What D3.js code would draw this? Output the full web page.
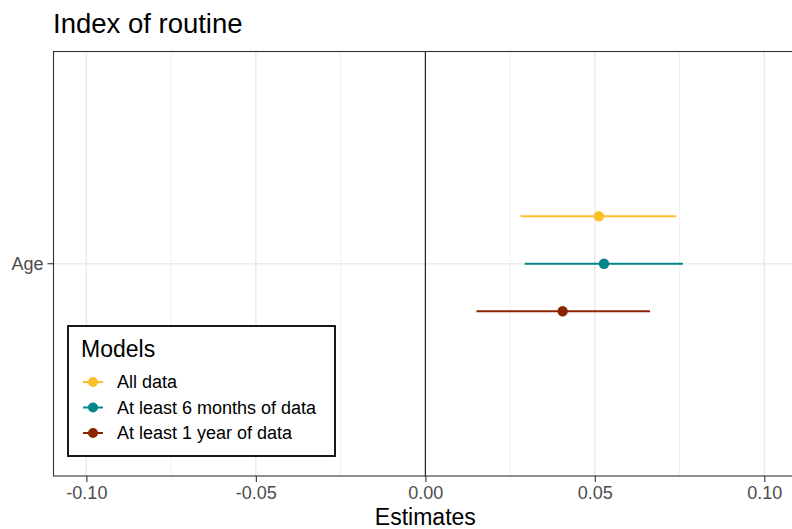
<!DOCTYPE html>
<html>
<head>
<meta charset="utf-8">
<script src="https://cdn.jsdelivr.net/npm/d3@7"></script>
<style>
  html, body { margin: 0; padding: 0; background: #fff; }
  svg { display: block; font-family: Arial, "Liberation Sans", sans-serif; }
</style>
</head>
<body>
<svg id="chart" width="792" height="529"></svg>
<script>
// Coefficient estimates for Age with confidence intervals, by model subset
const models = ["All data", "At least 6 months of data", "At least 1 year of data"];
const estimates = [0.0512, 0.0527, 0.0405];
const lowers = [0.0281, 0.0293, 0.0151];
const uppers = [0.0740, 0.0760, 0.0663];
const colors = ["#FBBF2A", "#00868B", "#8B2500"];
const terms = ["Age"];
const xTicks = [-0.10, -0.05, 0.00, 0.05, 0.10];
const xMinorTicks = [-0.075, -0.025, 0.025, 0.075];

const svg = d3.select("#chart");
const panel = { left: 53.5, top: 51.5, right: 806, bottom: 476 };

const x = d3.scaleLinear()
  .domain([-0.1097, 0.1123])
  .range([panel.left, panel.right]);

const y = d3.scaleBand()
  .domain(terms)
  .range([panel.top, panel.bottom]);

// Dodge offsets for the three models within the single term
const dodge = d3.scalePoint()
  .domain(models)
  .range([-47.5, 47.5]);

// Panel background
svg.append("rect")
  .attr("x", panel.left).attr("y", panel.top)
  .attr("width", panel.right - panel.left).attr("height", panel.bottom - panel.top)
  .attr("fill", "#fff");

// Grid lines
const grid = svg.append("g");
grid.selectAll("line.minor").data(xMinorTicks).join("line")
  .attr("class", "minor")
  .attr("x1", d => x(d)).attr("x2", d => x(d))
  .attr("y1", panel.top).attr("y2", panel.bottom)
  .attr("stroke", "#f0f0f0").attr("stroke-width", 1);
grid.selectAll("line.major").data(xTicks).join("line")
  .attr("class", "major")
  .attr("x1", d => x(d)).attr("x2", d => x(d))
  .attr("y1", panel.top).attr("y2", panel.bottom)
  .attr("stroke", "#ebebeb").attr("stroke-width", 1.6);
grid.selectAll("line.hmajor").data(terms).join("line")
  .attr("class", "hmajor")
  .attr("x1", panel.left).attr("x2", panel.right)
  .attr("y1", d => y(d) + y.bandwidth() / 2).attr("y2", d => y(d) + y.bandwidth() / 2)
  .attr("stroke", "#ebebeb").attr("stroke-width", 1.6);

// Zero reference line
svg.append("line")
  .attr("x1", x(0)).attr("x2", x(0))
  .attr("y1", panel.top).attr("y2", panel.bottom)
  .attr("stroke", "#000").attr("stroke-width", 1);

// Error bars and points
const rows = models.map((m, i) => ({
  model: m, est: estimates[i], lo: lowers[i], hi: uppers[i], color: colors[i], term: "Age"
}));
const cy = d => y(d.term) + y.bandwidth() / 2 + dodge(d.model);

svg.append("g").selectAll("line").data(rows).join("line")
  .attr("x1", d => x(d.lo)).attr("x2", d => x(d.hi))
  .attr("y1", cy).attr("y2", cy)
  .attr("stroke", d => d.color).attr("stroke-width", 2);

svg.append("g").selectAll("circle").data(rows).join("circle")
  .attr("cx", d => x(d.est)).attr("cy", cy)
  .attr("r", 5.2)
  .attr("fill", d => d.color);

// Panel border
svg.append("rect")
  .attr("x", panel.left).attr("y", panel.top)
  .attr("width", panel.right - panel.left).attr("height", panel.bottom - panel.top)
  .attr("fill", "none").attr("stroke", "#333").attr("stroke-width", 1.1);

// X axis
const xAxis = svg.append("g")
  .attr("transform", `translate(0,${panel.bottom})`)
  .call(d3.axisBottom(x).tickValues(xTicks).tickSize(6).tickPadding(4));
xAxis.select(".domain").remove();
xAxis.selectAll(".tick line").attr("stroke", "#333").attr("stroke-width", 1.1);
xAxis.selectAll(".tick text")
  .attr("fill", "#4d4d4d").attr("font-size", "18px")
  .text(d => d3.format(".2f")(d).replace("−", "-"));

// Y axis
const yAxis = svg.append("g")
  .attr("transform", `translate(${panel.left},0)`)
  .call(d3.axisLeft(y).tickSize(6).tickPadding(4));
yAxis.select(".domain").remove();
yAxis.selectAll(".tick line").attr("stroke", "#333").attr("stroke-width", 1.1);
yAxis.selectAll(".tick text").attr("fill", "#4d4d4d").attr("font-size", "18px");

// Axis title
svg.append("text")
  .attr("x", x(0)).attr("y", 525)
  .attr("text-anchor", "middle")
  .attr("font-size", "23px").attr("fill", "#000")
  .text("Estimates");

// Title
svg.append("text")
  .attr("x", 53).attr("y", 33)
  .attr("font-size", "27.5px").attr("fill", "#000")
  .text("Index of routine");

// Legend
const legend = svg.append("g").attr("transform", "translate(68,326)");
legend.append("rect")
  .attr("x", 0).attr("y", 0).attr("width", 267).attr("height", 130)
  .attr("fill", "#fff").attr("stroke", "#000").attr("stroke-width", 1.8);
legend.append("text")
  .attr("x", 13).attr("y", 31)
  .attr("font-size", "23px").attr("fill", "#000")
  .text("Models");
const items = legend.selectAll("g.item").data(rows).join("g")
  .attr("class", "item")
  .attr("transform", (d, i) => `translate(0,${56 + i * 25.5})`);
items.append("line")
  .attr("x1", 15).attr("x2", 35).attr("y1", 0).attr("y2", 0)
  .attr("stroke", d => d.color).attr("stroke-width", 2);
items.append("circle")
  .attr("cx", 25).attr("cy", 0).attr("r", 5)
  .attr("fill", d => d.color);
items.append("text")
  .attr("x", 49).attr("y", 0).attr("dy", "0.35em")
  .attr("font-size", "18px").attr("fill", "#000")
  .text(d => d.model);
</script>
</body>
</html>
